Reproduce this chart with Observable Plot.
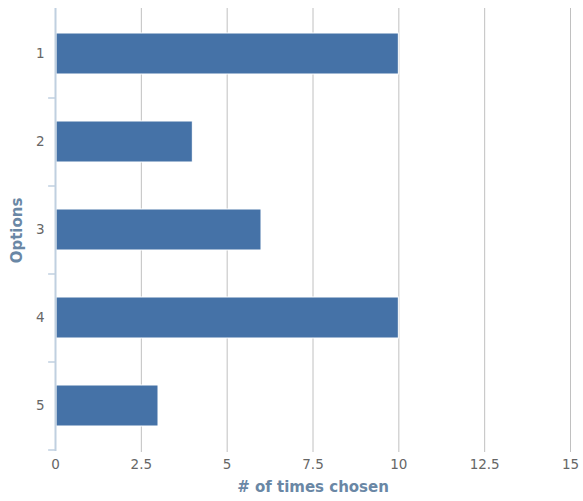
<!DOCTYPE html>
<html>
<head>
<meta charset="utf-8">
<script src="https://cdn.jsdelivr.net/npm/d3@7"></script>
<script src="https://cdn.jsdelivr.net/npm/@observablehq/plot@0.6"></script>
<style>
  html, body { margin: 0; padding: 0; background: #fff; }
  #chart svg g[aria-label*="tick label"] text { font-size: 13.5px !important; }
</style>
</head>
<body>
<div id="chart"></div>
<script>
const options = ["1", "2", "3", "4", "5"];
const counts = [10, 4, 6, 10, 3];
const xTicks = [0, 2.5, 5, 7.5, 10, 12.5, 15];
const xTitle = "# of times chosen";
const yTitle = "Options";

const data = options.map((o, i) => ({option: o, count: counts[i]}));

const chart = Plot.plot({
  width: 583,
  height: 501,
  marginTop: 10,
  marginBottom: 51,
  marginLeft: 55,
  marginRight: 13,
  style: {fontFamily: "DejaVu Sans, Verdana, sans-serif", fontSize: "12px", color: "#666", background: "#fff"},
  x: {domain: [0, 15], ticks: xTicks},
  y: {domain: options, paddingInner: 0.53, paddingOuter: 0.265},
  marks: [
    Plot.ruleX(xTicks.slice(1), {stroke: "#c0c0c0", strokeWidth: 1, insetTop: -2, insetBottom: -2}),
    Plot.barX(data, {x: "count", y: "option", fill: "#4572a7", stroke: "#fff", strokeWidth: 1, insetLeft: 1}),
    Plot.ruleX([0], {stroke: "#c0d0e0", strokeWidth: 2, insetTop: -2, insetBottom: -1}),
    Plot.ruleY(options, {y: d => d, dy: 44, x1: -0.2, x2: 0, stroke: "#c0d0e0", strokeWidth: 1.5}),
    Plot.axisX(xTicks, {tickSize: 0, tickPadding: 9, label: null, tickFormat: d => String(d), fill: "#666", fontSize: 13.5}),
    Plot.axisY(options, {tickSize: 0, tickPadding: 11, label: null, fill: "#666", fontSize: 13.5}),
    Plot.text([xTitle], {frameAnchor: "bottom", dy: 37, lineAnchor: "middle", textAnchor: "middle", text: d => d, fontWeight: "bold", fontSize: 15, fill: "#6a87a5"}),
    Plot.text([yTitle], {frameAnchor: "left", dx: -38, rotate: -90, lineAnchor: "middle", textAnchor: "middle", text: d => d, fontWeight: "bold", fontSize: 15, fill: "#6a87a5"})
  ]
});
document.getElementById("chart").appendChild(chart);
</script>
</body>
</html>
